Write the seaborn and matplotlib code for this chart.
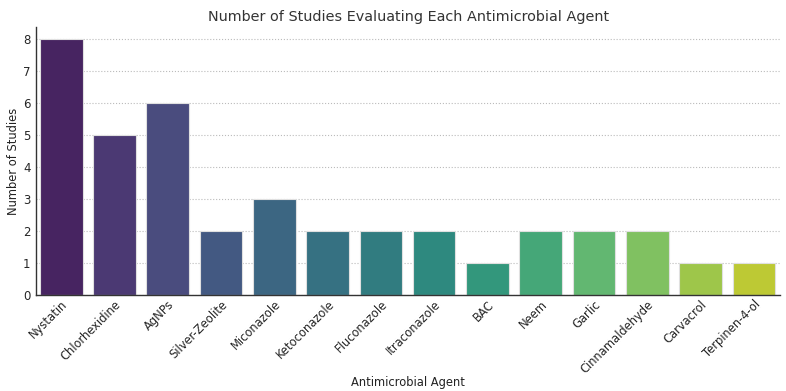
import pandas as pd
import matplotlib
matplotlib.use("Agg")
import matplotlib.pyplot as plt
import seaborn as sns

agents = ["Nystatin", "Chlorhexidine", "AgNPs", "Silver-Zeolite", "Miconazole",
          "Ketoconazole", "Fluconazole", "Itraconazole", "BAC", "Neem",
          "Garlic", "Cinnamaldehyde", "Carvacrol", "Terpinen-4-ol"]
studies = [8, 5, 6, 2, 3, 2, 2, 2, 1, 2, 2, 2, 1, 1]

df = pd.DataFrame({"Antimicrobial Agent": agents, "Number of Studies": studies})

sns.set_style("white")
plt.rcParams["font.family"] = ["DejaVu Sans"]

fig, ax = plt.subplots(figsize=(7.86, 3.91), dpi=100)
sns.barplot(data=df, x="Antimicrobial Agent", y="Number of Studies",
            hue="Antimicrobial Agent", palette="viridis", legend=False,
            edgecolor="#e0e0e0", linewidth=0.8, ax=ax)

ax.set_title("Number of Studies Evaluating Each Antimicrobial Agent",
             fontsize=10.4, color="#333333", pad=4)
ax.set_xlabel("Antimicrobial Agent", fontsize=8.3, color="#222222", labelpad=0)
ax.set_ylabel("Number of Studies", fontsize=8.3, color="#222222", labelpad=2)
ax.set_ylim(0, 8.38)
ax.set_xlim(-0.47, 13.5)
ax.yaxis.grid(True, linestyle=":", color="#bbbbbb", linewidth=0.8)
ax.set_axisbelow(True)
plt.xticks(rotation=45, ha="right", rotation_mode="anchor", fontsize=8.3)
plt.yticks(fontsize=8.5)
ax.tick_params(axis="x", direction="in", length=4, color="#333333", pad=2)
ax.tick_params(axis="y", direction="in", length=3, color="#333333", pad=4)
sns.despine(ax=ax)
for s in ["left", "bottom"]:
    ax.spines[s].set_color("#333333")
    ax.spines[s].set_linewidth(1.0)

plt.subplots_adjust(left=0.046, right=0.993, top=0.931, bottom=0.245)
plt.savefig("out.png", dpi=100)
